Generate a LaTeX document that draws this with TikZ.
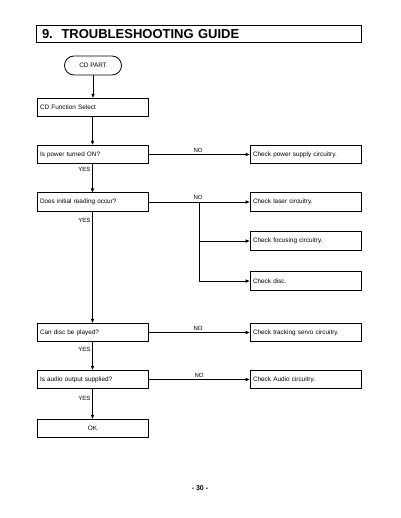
\documentclass[tikz,border=0pt]{standalone}
\usepackage{fontspec}
\setmainfont{Liberation Sans}
\usetikzlibrary{arrows.meta,shapes.misc}
\begin{document}
\begin{tikzpicture}[x=1pt,y=-1pt,
  box/.style={draw, line width=0.8pt, minimum height=18.5pt, text width=105pt,
    inner xsep=3pt, inner ysep=0pt, align=left, font=\fontsize{6.4}{7}\selectfont},
  okbox/.style={box, align=center},
  term/.style={draw, line width=0.8pt, rounded rectangle, minimum width=57pt,
    minimum height=19pt, inner sep=0pt, font=\fontsize{6.4}{7}\selectfont},
  titlebox/.style={draw, line width=1pt, minimum width=325pt, minimum height=17pt,
    text width=313pt, inner xsep=6pt, inner ysep=0pt, align=left,
    font=\fontsize{13}{14}\selectfont\bfseries},
  lbl/.style={inner sep=0pt, font=\fontsize{6}{7}\selectfont},
  flow/.style={line width=1pt, -{Triangle[length=4pt,width=3.2pt]}},
  noflow/.style={line width=0.8pt, -{Triangle[length=4pt,width=3.2pt]}},
  ]
\useasboundingbox (0,0) rectangle (400,518);

\node[titlebox] (title) at (198.5,34.5) {9.\ \ TROUBLESHOOTING GUIDE};

\node[term] (cdpart) at (93,65.5) {CD PART};
\node[box] (func) at (92.5,107.5) {CD Function Select};
\node[box] (power) at (92.5,154.5) {Is power turned ON?};
\node[box] (pchk) at (305.5,154.5) {Check power supply circuitry.};
\node[box] (init) at (92.5,202) {Does initial reading occur?};
\node[box] (laser) at (305.5,202) {Check laser circuitry.};
\node[box] (focus) at (305.5,241) {Check focusing circuitry.};
\node[box] (disc) at (305.5,281) {Check disc.};
\node[box] (can) at (92.5,332.5) {Can disc be played?};
\node[box] (track) at (305.5,332.5) {Check tracking servo circuitry.};
\node[box] (audio) at (92.5,379.5) {Is audio output supplied?};
\node[box] (achk) at (305.5,379.5) {Check Audio circuitry.};
\node[okbox] (ok) at (92.5,428.5) {OK};

% main flow
\draw[flow] (cdpart.south) -- (cdpart.south |- func.north);
\draw[flow] (func.south) -- (power.north);
\draw[flow] (power.south) -- (init.north);
\draw[flow] (init.south) -- (can.north);
\draw[flow] (can.south) -- (audio.north);
\draw[flow] (audio.south) -- (ok.north);

% NO branches
\draw[noflow] (power.east) -- (pchk.west);
\draw[noflow] (init.east) -- (laser.west);
\coordinate (br) at (199,202);
\draw[noflow] (br) |- (focus.west);
\draw[noflow] (br) |- (disc.west);
\draw[noflow] (can.east) -- (track.west);
\draw[noflow] (audio.east) -- (achk.west);

% labels
\node[lbl] (no1) at (198,150.5) {NO};
\node[lbl] (no2) at (198,197.5) {NO};
\node[lbl] (no3) at (198,328) {NO};
\node[lbl] (no4) at (199,375.5) {NO};
\node[lbl, anchor=east] (yes1) at (90.5,169) {YES};
\node[lbl, anchor=east] (yes2) at (90.5,220) {YES};
\node[lbl, anchor=east] (yes3) at (90.5,349.5) {YES};
\node[lbl, anchor=east] (yes4) at (90.5,398) {YES};

\node[inner sep=0pt, font=\fontsize{7}{8}\selectfont\bfseries] (page) at (200,488) {- 30 -};
\end{tikzpicture}
\end{document}
